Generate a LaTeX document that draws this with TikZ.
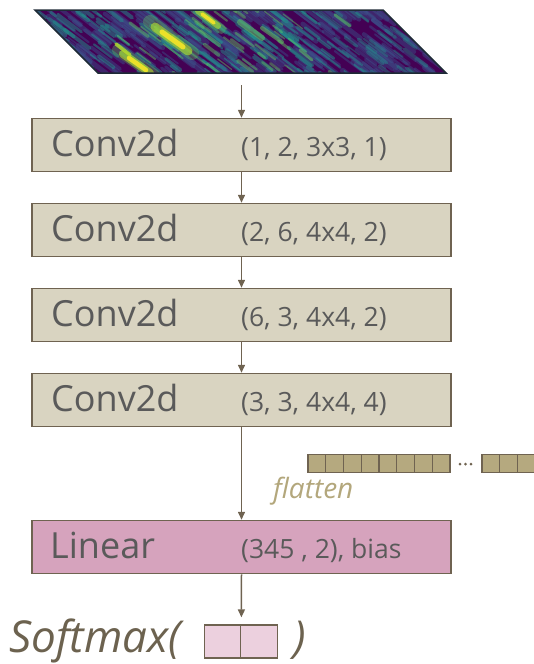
\documentclass[tikz,border=0pt]{standalone}
\usepackage{fontspec}
\setmainfont{Open Sans}
\usepackage{xcolor}
\usetikzlibrary{arrows.meta,positioning}
\definecolor{frame}{HTML}{6F6351}
\definecolor{convfill}{HTML}{D9D4C1}
\definecolor{linfill}{HTML}{D6A3BD}
\definecolor{smfill}{HTML}{ECD0DE}
\definecolor{vecfill}{HTML}{B5A97F}
\definecolor{flatcol}{HTML}{B3A77C}
\definecolor{txtgray}{HTML}{5A5A5A}
\definecolor{smtxt}{HTML}{6C624F}
\definecolor{imgedge}{HTML}{1E2A36}
% viridis
\definecolor{vir0}{HTML}{440154}
\definecolor{vir1}{HTML}{3B528B}
\definecolor{vir2}{HTML}{21918C}
\definecolor{vir3}{HTML}{5EC962}
\definecolor{vir35}{HTML}{B5DE2B}
\definecolor{vir4}{HTML}{FDE725}

\tikzset{
  layer/.style={draw=frame, line width=1.5pt, fill=convfill, minimum width=419pt, minimum height=53pt, inner sep=0pt},
  flow/.style={frame, line width=1.5pt, -{Triangle[length=8pt,width=7pt]}},
  lname/.style={anchor=base west, text=txtgray, inner sep=0pt, font=\fontsize{36}{40}\selectfont},
  largs/.style={anchor=base west, text=txtgray, inner sep=0pt, font=\fontsize{26.5}{30}\selectfont},
  vcell/.style={draw=frame, line width=1.3pt, fill=vecfill, minimum width=17.75pt, minimum height=18pt, inner sep=0pt},
  smcell/.style={draw=frame, line width=1.3pt, fill=smfill, minimum width=36.5pt, minimum height=33pt, inner sep=0pt},
  smtext/.style={anchor=base west, text=smtxt, inner sep=0pt, font=\fontsize{44}{50}\selectfont\itshape},
  streak/.style={line cap=round}
}

\begin{document}
\begin{tikzpicture}[x=1pt,y=-1pt]
  \useasboundingbox (0,0) rectangle (534,664);

  % input spectrogram
  \begin{scope}
    \clip (35,10) -- (383,10) -- (446,73) -- (98,73) -- cycle;
    \fill[vir0] (35,10) -- (383,10) -- (446,73) -- (98,73) -- cycle;
    \pgfmathsetseed{23}
    \foreach \i in {1,...,260} {
      \pgfmathsetmacro\sy{0+rnd*74}
      \pgfmathsetmacro\sx{20+(\sy-10)+rnd*380}
      \pgfmathsetmacro\sl{10+rnd*22}
      \pgfmathsetmacro\sw{1.5+rnd*4}
      \draw[streak, vir1, line width=\sw pt, opacity=.45] (\sx,\sy) -- ++(\sl,0.75*\sl);
    }
    \foreach \i in {1,...,130} {
      \pgfmathsetmacro\sy{0+rnd*74}
      \pgfmathsetmacro\sx{30+(\sy-10)+rnd*270}
      \pgfmathsetmacro\sl{8+rnd*18}
      \pgfmathsetmacro\sw{1.2+rnd*3}
      \draw[streak, vir2, line width=\sw pt, opacity=.5] (\sx,\sy) -- ++(\sl,0.75*\sl);
    }
    \foreach \i in {1,...,40} {
      \pgfmathsetmacro\sy{0+rnd*74}
      \pgfmathsetmacro\sx{300+(\sy-10)+rnd*110}
      \pgfmathsetmacro\sl{8+rnd*16}
      \pgfmathsetmacro\sw{1.2+rnd*2.5}
      \draw[streak, vir2, line width=\sw pt, opacity=.4] (\sx,\sy) -- ++(\sl,0.75*\sl);
    }
    \foreach \i in {1,...,45} {
      \pgfmathsetmacro\sy{0+rnd*74}
      \pgfmathsetmacro\sx{90+(\sy-10)+rnd*190}
      \pgfmathsetmacro\sl{6+rnd*14}
      \pgfmathsetmacro\sw{1.2+rnd*2.5}
      \draw[streak, vir3, line width=\sw pt, opacity=.45] (\sx,\sy) -- ++(\sl,0.75*\sl);
    }
    % bright spots
    \draw[streak, vir3, line width=14pt, opacity=.35] (150,22) -- (192,53);
    \draw[streak, vir35, line width=9pt, opacity=.6] (155,27) -- (188,51);
    \draw[streak, vir4, line width=5pt, opacity=.85] (162,32) -- (183,47);
    \draw[streak, vir3, line width=10pt, opacity=.35] (195,9) -- (221,29);
    \draw[streak, vir35, line width=6pt, opacity=.6] (198,11) -- (218,26);
    \draw[streak, vir4, line width=3.5pt, opacity=.85] (202,14) -- (214,23);
    \draw[streak, vir3, line width=12pt, opacity=.35] (118,50) -- (154,75);
    \draw[streak, vir35, line width=8pt, opacity=.6] (123,54) -- (150,73);
    \draw[streak, vir4, line width=4.5pt, opacity=.85] (129,58) -- (146,70);
    \draw[streak, vir35, line width=3.5pt, opacity=.8] (116,44) -- (130,55);
    \draw[streak, vir3, line width=6pt, opacity=.55] (240,22) -- (262,38);
    \draw[streak, vir3, line width=4pt, opacity=.55] (262,28) -- (282,42);
    \draw[streak, vir3, line width=3pt, opacity=.55] (300,50) -- (312,60);
    \draw[streak, vir3, line width=3pt, opacity=.5] (335,15) -- (350,26);
  \end{scope}
  \draw[imgedge, line width=1.5pt] (35,10) -- (383,10) -- (446,73) -- (98,73) -- cycle;
  \coordinate (imgout) at (241.5,85);

  % conv stack
  \foreach \n/\y/\a in {1/145/{(1, 2, 3x3, 1)}, 2/230/{(2, 6, 4x4, 2)}, 3/315/{(6, 3, 4x4, 2)}, 4/400/{(3, 3, 4x4, 4)}} {
    \node[layer] (c\n) at (241.5,\y) {};
    \node[lname] (c\n name) at (51,\y+11) {Conv2d};
    \node[largs] (c\n args) at (241,\y+11) {\a};
  }

  % linear layer
  \node[layer, fill=linfill] (lin) at (241.5,547) {};
  \node[lname] (linname) at (50,558) {Linear};
  \node[largs] (linargs) at (241,558) {(345 , 2), bias};

  % flattened vector
  \foreach \k in {0,...,7}
    \node[vcell] (v\k) at (316.9+17.75*\k,463.5) {};
  \foreach \k in {0,1,2}
    \node[vcell] (w\k) at (490.9+17.75*\k,463.5) {};
  \foreach \d in {460,465.5,471}
    \fill[frame] (\d,464) circle (1.5);
  \node[text=flatcol, font=\fontsize{28}{32}\selectfont\itshape, anchor=base west, inner sep=0pt] (flat) at (273,498) {flatten};

  % softmax output
  \node[smtext] (smx) at (9,652) {Softmax(};
  \node[smcell] (s1) at (222.5,641.5) {};
  \node[smcell, right=-1.3pt of s1] (s2) {};
  \node[smtext] (smclose) at (293,652) {)};

  % arrows
  \draw[flow] (imgout) -- (c1.north);
  \draw[flow] (c1.south) -- (c2.north);
  \draw[flow] (c2.south) -- (c3.north);
  \draw[flow] (c3.south) -- (c4.north);
  \draw[flow] (c4.south) -- (lin.north);
  \draw[flow, shorten >=7pt] (lin.south) -- (s1.north east);
\end{tikzpicture}
\end{document}
